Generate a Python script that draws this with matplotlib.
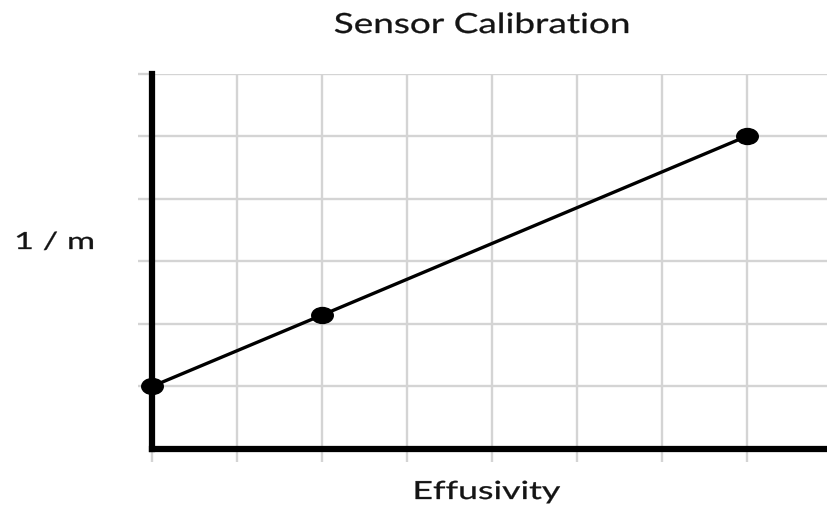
import matplotlib
matplotlib.use("Agg")
import matplotlib.pyplot as plt
from matplotlib import patheffects
from matplotlib.transforms import Affine2D
from matplotlib.path import Path

# Data
effusivity = [0, 2, 7]
inv_m = [1.0, 2.14, 5.0]
x_gridlines = [0, 1, 2, 3, 4, 5, 6, 7]
y_gridlines = [1, 2, 3, 4, 5, 6]
title = "Sensor Calibration"
xlabel = "Effusivity"
ylabel = "1 / m"

W, H = 827, 508
fig = plt.figure(figsize=(W / 100, H / 100), dpi=100)
left, right, bottom, top = 152, 827, 449, 73.5
ax = fig.add_axes([left / W, 1 - bottom / H, (right - left) / W, (bottom - top) / H])

ax.set_xlim(0, 7.94)
ax.set_ylim(0, 6)
ax.set_xticks(x_gridlines)
ax.set_yticks(y_gridlines)
ax.set_xticklabels([])
ax.set_yticklabels([])
grid_color = "#d4d4d4"
ax.grid(True, color=grid_color, linewidth=1.7)
ax.set_axisbelow(True)
ax.tick_params(axis="x", length=9, width=1.7, color=grid_color)
ax.tick_params(axis="y", length=10, width=1.7, color=grid_color)

for s in ["top", "right"]:
    ax.spines[s].set_visible(False)
for s in ["left", "bottom"]:
    ax.spines[s].set_linewidth(4.5)
    ax.spines[s].set_color("black")
    ax.spines[s].set_zorder(3)

# slightly wide elliptical marker, as in the reference
ellipse = Path.unit_circle().transformed(Affine2D().scale(1.35, 1.0))
ax.plot(effusivity, inv_m, color="black", linewidth=2.4, marker=ellipse,
        markersize=15.5, clip_on=False, zorder=4)


class Stretch(patheffects.AbstractPathEffect):
    """Stretch text glyphs horizontally about a fixed pixel x, with a light stroke."""
    def __init__(self, sx, cx, stroke=0.22):
        super().__init__()
        self.sx = sx
        self.cx = cx
        self.stroke = stroke

    def draw_path(self, renderer, gc, tpath, affine, rgbFace=None):
        t = affine + Affine2D().translate(-self.cx, 0).scale(self.sx, 1.0).translate(self.cx, 0)
        gc0 = renderer.new_gc()
        gc0.copy_properties(gc)
        gc0.set_linewidth(self.stroke)
        if rgbFace is not None:
            gc0.set_foreground(rgbFace)
        renderer.draw_path(gc0, tpath, t, rgbFace)
        gc0.restore()


font = ["Lato", "DejaVu Sans"]


def label(txt, cx, baseline, size, sx):
    fig.text(cx / W, 1 - baseline / H, txt, ha="center", va="baseline",
             fontsize=size, family=font, color="#141414",
             path_effects=[Stretch(sx, cx)])


label(title, 482.5, 33, 20, 1.33)
label(xlabel, 486, 499, 18, 1.43)
label(ylabel, 54.5, 249, 17, 1.45)

fig.savefig("out.png", dpi=100)
